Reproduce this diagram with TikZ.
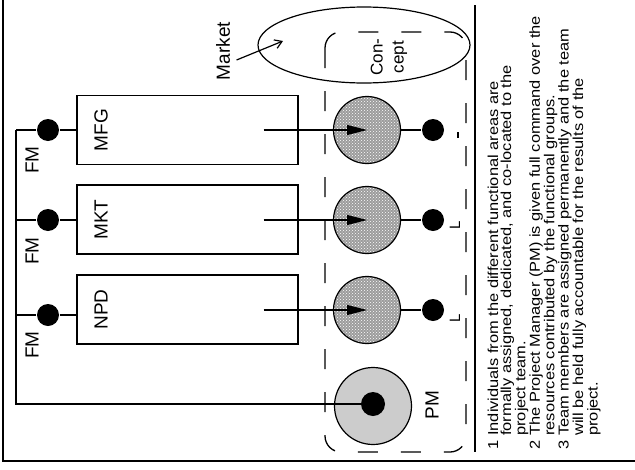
\documentclass[tikz,border=0pt]{standalone}
\usepackage{fontspec}
\setmainfont{Liberation Sans}
\newfontfamily\bodyfont[FakeStretch=1.14]{Liberation Sans}
\usetikzlibrary{arrows.meta,shapes.geometric,patterns}
\newcommand\ind{\hphantom{1}\ }
\begin{document}
\begin{tikzpicture}[x=1pt,y=1pt,line width=1.2pt,
  lbl/.style={rotate=90,font=\fontsize{19}{22}\selectfont,inner sep=0},
  fbox/.style={draw,rectangle,minimum width=221,minimum height=69,inner sep=0},
  bigdot/.style={circle,fill=black,minimum size=22,inner sep=0},
  hatchc/.style={circle,draw,minimum size=67,inner sep=0,preaction={fill=gray!78},pattern=crosshatch dots,pattern color=white},
  flow/.style={-{Triangle[length=20pt,width=10pt]}},
  note/.style={rotate=90,anchor=north west,inner sep=0,align=left,font=\bodyfont\fontsize{14.4}{13}\selectfont},
  Lmark/.style={rotate=90,anchor=base west,inner sep=0,font=\fontsize{15}{15}\selectfont}]
\useasboundingbox (0,0) rectangle (635,-469);
% frame
\draw[line width=1.5pt] (3,0) -- (3,-461) -- (635,-461);
\draw (475,-5) -- (475,-452);
% market ellipse and concept box
\node[ellipse,draw,minimum width=212,minimum height=76,inner sep=0] (market) at (364,-45) {};
\draw[dash pattern=on 20pt off 23pt,rounded corners=16pt,line width=1.3pt] (325,-32) rectangle (466,-452);
\node[lbl] (mlab) at (223,-51) {Market};
\coordinate (mtip) at (283,-41);
\draw[-{Straight Barb[length=7pt,width=9pt]}] ([xshift=6,yshift=-9]mlab.south) -- (mtip);
\node[rotate=90,align=center,font=\fontsize{17}{21}\selectfont] (concept) at (389,-57) {Con-\\cept};
% functional boxes
\node[fbox] (mfg) at (187.5,-130) {};
\node[fbox] (mkt) at (187.5,-219.5) {};
\node[fbox] (npd) at (187.5,-309.5) {};
\node[lbl] (mfgl) at (101,-130) {MFG};
\node[lbl] (mktl) at (101,-219.5) {MKT};
\node[lbl] (npdl) at (101,-309.5) {NPD};
% left dots and FM labels
\node[bigdot] (d1) at (48,-130) {};
\node[bigdot] (d2) at (48,-220) {};
\node[bigdot] (d3) at (48,-315) {};
\node[lbl] (fm1) at (32,-160) {FM};
\node[lbl] (fm2) at (32,-251) {FM};
\node[lbl] (fm3) at (32,-345) {FM};
% PM
\node[circle,draw,fill=gray!40,minimum size=77,inner sep=0] (pm) at (373,-406) {};
\node[circle,fill=black,minimum size=24,inner sep=0] (pmdot) at (373,-404) {};
\node[lbl] (pml) at (432,-405) {PM};
% trunk
\coordinate (top) at (16,-130);
\coordinate (corner) at (16,-404);
\draw (top) -- (corner) -- (pmdot.center);
\draw (top) -- (d1) -- (d1 -| mfg.west);
\draw (d2 -| top) -- (d2) -- (d2 -| mkt.west);
\draw (d3 -| top) -- (d3) -- (d3 -| npd.west);
% team circles
\node[hatchc] (c1) at (367,-130) {};
\node[hatchc] (c2) at (367,-220) {};
\node[hatchc] (c3) at (367,-310) {};
\node[bigdot] (r1) at (433,-130) {};
\node[bigdot] (r2) at (433,-220) {};
\node[bigdot] (r3) at (433,-310) {};
\draw[flow] ([xshift=-35]mfg.east) -- (c1.center);
\draw[flow] ([xshift=-35]mkt.east |- c2) -- (c2.center);
\draw[flow] ([xshift=-35]npd.east |- c3) -- (c3.center);
\draw (c1) -- (r1);
\draw (c2) -- (r2);
\draw (c3) -- (r3);
% L marks
\draw (458,-132) -- (458,-138);
\node[Lmark] (L2) at (460,-230) {L};
\node[Lmark] (L3) at (460,-323) {L};
% notes
\node[note] (notes) at (487,-450) {1 Individuals from the different functional areas are\\
\ind formally assigned, dedicated, and co-located to the\\
\ind project team.\\
2 The Project Manager (PM) is given full command over the\\
\ind resources contributed by the functional groups.\\
3 Team members are assigned permanently and the team\\
\ind will be held fully accountable for the results of the\\
\ind project.};
\end{tikzpicture}
\end{document}
